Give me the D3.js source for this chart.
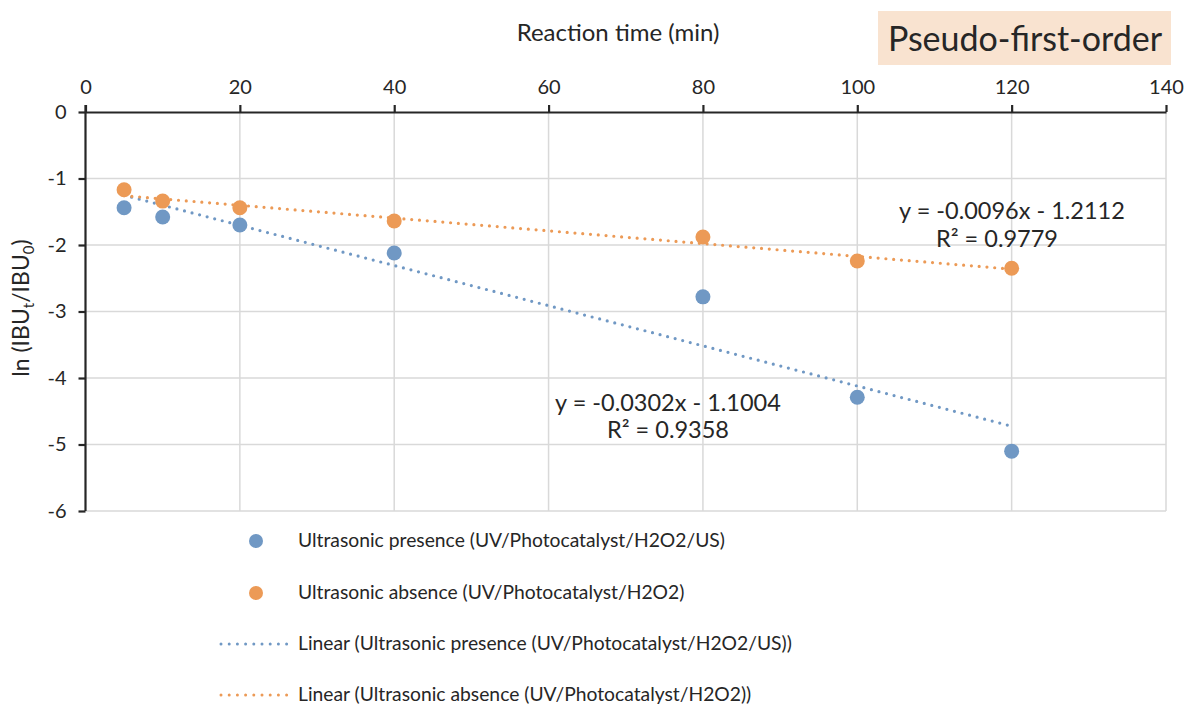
<!DOCTYPE html>
<html>
<head>
<script src="https://cdn.jsdelivr.net/npm/d3@7"></script>
<style>
  body { margin: 0; background: #fff; }
  text { font-family: Lato, "Open Sans", sans-serif; fill: #262626; }
</style>
</head>
<body>
<svg id="chart" width="1186" height="704"></svg>
<script>
// data
var times = [5, 10, 20, 40, 80, 100, 120];
var presence = [-1.44, -1.58, -1.70, -2.12, -2.78, -4.29, -5.10];
var absence = [-1.17, -1.34, -1.44, -1.64, -1.88, -2.24, -2.35];
var xTicks = [0, 20, 40, 60, 80, 100, 120, 140];
var yTicks = [0, -1, -2, -3, -4, -5, -6];
// trendline coefficients as printed on the chart: [slope, intercept, r2]
var presenceFit = [-0.0302, -1.1004, 0.9358];
var absenceFit = [-0.0096, -1.2112, 0.9779];
var legendNames = [
  "Ultrasonic presence (UV/Photocatalyst/H2O2/US)",
  "Ultrasonic absence (UV/Photocatalyst/H2O2)",
  "Linear (Ultrasonic presence (UV/Photocatalyst/H2O2/US))",
  "Linear (Ultrasonic absence (UV/Photocatalyst/H2O2))"
];

var blue = "#7098c4", orange = "#ec9a56";
var svg = d3.select("#chart");
var pLeft = 85.5, pRight = 1166, pTop = 112, pBottom = 511;

var x = d3.scaleLinear().domain([0, 140]).range([pLeft, pRight]);
var y = d3.scaleLinear().domain([0, -6]).range([pTop, pBottom]);

// grid
var grid = svg.append("g");
grid.selectAll(".vg").data(xTicks.slice(1)).enter().append("line")
  .attr("x1", d => x(d)).attr("x2", d => x(d))
  .attr("y1", pTop).attr("y2", pBottom)
  .attr("stroke", "#d9d9d9").attr("stroke-width", 1.5);
grid.selectAll(".hg").data(yTicks.slice(1)).enter().append("line")
  .attr("x1", pLeft).attr("x2", pRight)
  .attr("y1", d => y(d)).attr("y2", d => y(d))
  .attr("stroke", "#d9d9d9").attr("stroke-width", 1.5);

// axes
var xAxis = svg.append("g").attr("transform", "translate(0," + pTop + ")")
  .call(d3.axisTop(x).tickValues(xTicks).tickSize(7).tickSizeOuter(0).tickPadding(11));
var yAxis = svg.append("g").attr("transform", "translate(" + pLeft + ",0)")
  .call(d3.axisLeft(y).tickValues(yTicks).tickFormat(d => String(d)).tickSize(7).tickSizeOuter(0).tickPadding(12));
[xAxis, yAxis].forEach(function(a) {
  a.select(".domain").attr("stroke", "#262626").attr("stroke-width", 2.2);
  a.selectAll(".tick line").attr("stroke", "#262626").attr("stroke-width", 2.2);
  a.selectAll(".tick text").style("font-size", "20px").attr("fill", "#262626");
});
yAxis.select(".domain").attr("d", "M0," + (pTop - 7) + "V" + pBottom);

// trendlines
function trend(fit) {
  return [[times[0], fit[0] * times[0] + fit[1]],
          [times[times.length - 1], fit[0] * times[times.length - 1] + fit[1]]];
}
var line = d3.line().x(d => x(d[0])).y(d => y(d[1]));
[[presenceFit, blue], [absenceFit, orange]].forEach(function(t) {
  svg.append("path").attr("d", line(trend(t[0])))
    .attr("fill", "none").attr("stroke", t[1]).attr("stroke-width", 3.2)
    .attr("stroke-linecap", "round").attr("stroke-dasharray", "0,7.8");
});

// points
svg.append("g").selectAll("circle").data(times).enter().append("circle")
  .attr("cx", d => x(d)).attr("cy", (d, i) => y(presence[i])).attr("r", 7.5).attr("fill", blue);
svg.append("g").selectAll("circle").data(times).enter().append("circle")
  .attr("cx", d => x(d)).attr("cy", (d, i) => y(absence[i])).attr("r", 7.5).attr("fill", orange);

// equation labels
function fmt(fit) {
  return "y = " + fit[0].toFixed(4) + "x - " + Math.abs(fit[1]).toFixed(4);
}
svg.append("text").attr("x", 1012).attr("y", 219).attr("text-anchor", "middle")
  .style("font-size", "23.5px").text(fmt(absenceFit));
svg.append("text").attr("x", 997).attr("y", 247).attr("text-anchor", "middle")
  .style("font-size", "23.5px").text("R² = " + absenceFit[2].toFixed(4));
svg.append("text").attr("x", 668).attr("y", 411).attr("text-anchor", "middle")
  .style("font-size", "23.5px").text(fmt(presenceFit));
svg.append("text").attr("x", 668).attr("y", 438).attr("text-anchor", "middle")
  .style("font-size", "23.5px").text("R² = " + presenceFit[2].toFixed(4));

// axis titles
svg.append("text").attr("x", 618).attr("y", 41).attr("text-anchor", "middle")
  .style("font-size", "24px").text("Reaction time (min)");
var yl = svg.append("text").attr("transform", "translate(29,308) rotate(-90)")
  .attr("text-anchor", "middle").style("font-size", "23px");
yl.append("tspan").text("ln (IBU");
yl.append("tspan").attr("dy", 5).style("font-size", "15px").text("t");
yl.append("tspan").attr("dy", -5).text("/IBU");
yl.append("tspan").attr("dy", 5).style("font-size", "15px").text("0");
yl.append("tspan").attr("dy", -5).text(")");

// title box
svg.append("rect").attr("x", 878).attr("y", 11).attr("width", 293).attr("height", 54)
  .attr("fill", "#f9e3d0");
svg.append("text").attr("x", 1025).attr("y", 51).attr("text-anchor", "middle")
  .style("font-size", "34px").text("Pseudo-first-order");

// legend
var lg = svg.append("g");
var ly = [541, 593, 644, 695];
lg.append("circle").attr("cx", 256).attr("cy", ly[0]).attr("r", 7).attr("fill", blue);
lg.append("circle").attr("cx", 256).attr("cy", ly[1]).attr("r", 7).attr("fill", orange);
[[ly[2], blue], [ly[3], orange]].forEach(function(l) {
  lg.append("line").attr("x1", 221).attr("x2", 287).attr("y1", l[0]).attr("y2", l[0])
    .attr("stroke", l[1]).attr("stroke-width", 3).attr("stroke-linecap", "round")
    .attr("stroke-dasharray", "0,8.2");
});
lg.selectAll("text").data(legendNames).enter().append("text")
  .attr("x", 298).attr("y", (d, i) => ly[i] + 6).style("font-size", "19.3px").text(d => d);
</script>
</body>
</html>
